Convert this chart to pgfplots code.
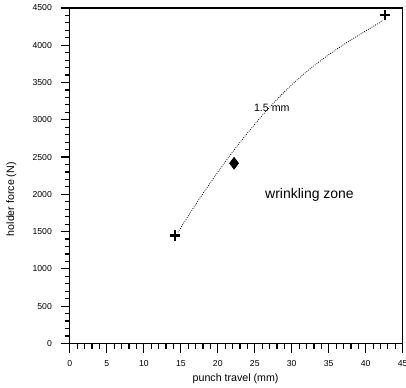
\documentclass[border=0pt]{standalone}
\usepackage{pgfplots}
\pgfplotsset{compat=1.18}
\usepackage{fontspec}
\setmainfont{Liberation Sans}
\begin{document}
\begin{tikzpicture}
\begin{axis}[
  name=ax,
  scale only axis,
  width=250pt, height=252pt,
  xmin=0, xmax=45, ymin=0, ymax=4500,
  xtick={0,5,...,45}, ytick={0,500,...,4500},
  minor tick num=4,
  xtick pos=bottom, ytick pos=left,
  tick align=outside,
  major tick length=7pt, minor tick length=4pt,
  tick style={black, line width=0.9pt},
  axis line style={line width=0.9pt},
  /pgf/number format/assume math mode=true,
  /pgf/number format/set thousands separator={},
  ticklabel style={font=\fontsize{6.5}{7.5}\selectfont},
  xticklabel style={yshift=-2.5pt},
  yticklabel style={xshift=-3pt},
  xlabel={punch travel (mm)},
  ylabel={holder force (N)},
  label style={font=\fontsize{8}{9}\selectfont},
  xlabel style={at={(axis description cs:0.498,-0.104)}, anchor=center},
  ylabel style={at={(axis description cs:-0.176,0.43)}, anchor=center},
]
\addplot[black, smooth, densely dotted, line width=0.6pt] coordinates {
 (14.6,1491) (17,1863) (20,2298) (23,2697) (26,3057) (29,3375)
 (32,3645) (35,3873) (38,4071) (42.3,4329)
};
\addplot[only marks, mark=+, mark size=4pt, line width=1.8pt] coordinates {(14.2,1450) (42.6,4405)};
\addplot[only marks, mark=diamond*, mark size=4.5pt, fill=black] coordinates {(22.2,2417)};
\node[font=\fontsize{8}{9}\selectfont] at (axis cs:27.3,3163) {1.5 mm};
\node[font=\fontsize{10.5}{12}\selectfont] at (axis cs:32.4,1988) {wrinkling zone};
\end{axis}
\pgfresetboundingbox
\path ([xshift=-52.5pt,yshift=-33pt]ax.south west) rectangle ([xshift=2.5pt,yshift=6pt]ax.north east);
\end{tikzpicture}
\end{document}
